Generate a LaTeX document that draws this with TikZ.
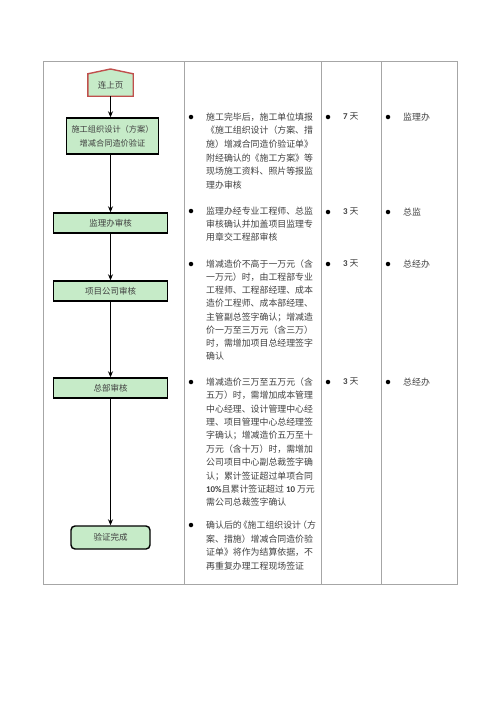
\documentclass[tikz,border=0pt]{standalone}
\usepackage{fontspec}
\setmainfont{Noto Sans CJK SC}
\newfontfamily\latinf{Carlito}
\usetikzlibrary{arrows.meta}
\definecolor{boxgreen}{HTML}{C6EBC8}
\definecolor{prevred}{HTML}{C0504D}
\definecolor{gridgray}{HTML}{A6A6A6}
\definecolor{txt}{HTML}{404040}
\begin{document}
\begin{tikzpicture}[x=1pt,y=-1pt,
  flowbox/.style={draw=black,line width=1.4pt,fill=boxgreen,text=txt,
    font=\fontsize{8.5}{14}\selectfont,inner sep=0pt,align=center},
  flowarrow/.style={line width=1.4pt,-{Stealth[length=6pt,width=5pt]}},
  bulletdot/.style={circle,fill=black,inner sep=0pt,minimum size=4.5pt},
  desc/.style={anchor=north west,inner sep=0pt,align=left,text=txt,
    font=\fontsize{8.9}{13.5}\selectfont},
  gridline/.style={draw=gridgray,line width=1pt}]
\useasboundingbox (0,0) rectangle (500,707);
% table
\draw[gridline] (43,61) rectangle (457,584);
\draw[gridline] (184,61) -- (184,584);
\draw[gridline] (321,61) -- (321,584);
\draw[gridline] (381,61) -- (381,584);
% flow chart
\node[inner sep=0pt,minimum width=45pt,minimum height=22pt] (prev) at (110.5,85) {};
\coordinate (apex) at (110.5,69);
\draw[draw=prevred,line width=1.4pt,fill=boxgreen]
  (prev.south west) -- (prev.north west) -- (apex) -- (prev.north east)
  -- (prev.south east) -- cycle;
\node[text=txt,font=\fontsize{8.5}{10}\selectfont] (prevtext) at (prev) {连上页};
\node[flowbox,font=\fontsize{8.2}{14}\selectfont,minimum width=92pt,minimum height=36pt] (b1) at (112.5,136)
  {施工组织设计（方案）\\增减合同造价验证};
\node[flowbox,minimum width=114pt,minimum height=20pt] (b2) at (110.5,223) {监理办审核};
\node[flowbox,minimum width=114pt,minimum height=20pt] (b3) at (110.5,291) {项目公司审核};
\node[flowbox,minimum width=114pt,minimum height=20pt] (b4) at (110.5,388) {总部审核};
\node[flowbox,rounded corners=4pt,minimum width=79pt,minimum height=23pt] (b5) at (110.5,537.5) {验证完成};
\draw[flowarrow] (prev.south) -- (b1.north -| prev.south);
\draw[flowarrow] (b1.south -| b2.north) -- (b2.north);
\draw[flowarrow] (b2.south) -- (b3.north);
\draw[flowarrow] (b3.south) -- (b4.north);
\draw[flowarrow] (b4.south) -- (b5.north);
% descriptions
\node[bulletdot] (d1b) at (191,117) {};
\node[desc,font=\fontsize{8.9}{13.6}\selectfont] (d1) at (206,112.5) {施工完毕后，施工单位填报\\《施工组织设计（方案、措\\施）增减合同造价验证单》\\附经确认的《施工方案》等\\现场施工资料、照片等报监\\理办审核};
\node[bulletdot] (d2b) at (191,211) {};
\node[desc,font=\fontsize{8.9}{13.2}\selectfont] (d2) at (206,206.5) {监理办经专业工程师、总监\\审核确认并加盖项目监理专\\用章交工程部审核};
\node[bulletdot] (d3b) at (191,264) {};
\node[desc,font=\fontsize{8.9}{13.2}\selectfont] (d3) at (206,259.5) {增减造价不高于一万元（含\\一万元）时，由工程部专业\\工程师、工程部经理、成本\\造价工程师、成本部经理、\\主管副总签字确认；增减造\\价一万至三万元（含三万）\\时，需增加项目总经理签字\\确认};
\node[bulletdot] (d4b) at (191,382) {};
\node[desc,font=\fontsize{8.9}{13.4}\selectfont] (d4) at (206,377.5) {增减造价三万至五万元（含\\五万）时，需增加成本管理\\中心经理、设计管理中心经\\理、项目管理中心总经理签\\字确认；增减造价五万至十\\万元（含十万）时，需增加\\公司项目中心副总裁签字确\\认；累计签证超过单项合同\\{\latinf\bfseries 10\%}且累计签证超过 {\latinf\bfseries 10} 万元\\需公司总裁签字确认};
\node[bulletdot] (d5b) at (191,525) {};
\node[desc,font=\fontsize{8.9}{13.7}\selectfont] (d5) at (206,520.5) {确认后的\kern-3pt《施工组织设计\kern-3pt（方\\案、措施）增减合同造价验\\证单》将作为结算依据，不\\再重复办理工程现场签证};
% durations
\node[bulletdot] (t1b) at (328,117) {};
\node[desc] (t1) at (343,112.5) {{\latinf\bfseries 7} 天};
\node[bulletdot] (t2b) at (328,212) {};
\node[desc] (t2) at (343,207.5) {{\latinf\bfseries 3} 天};
\node[bulletdot] (t3b) at (328,264) {};
\node[desc] (t3) at (343,259.5) {{\latinf\bfseries 3} 天};
\node[bulletdot] (t4b) at (328,382) {};
\node[desc] (t4) at (343,377.5) {{\latinf\bfseries 3} 天};
% departments
\node[bulletdot] (r1b) at (388,117) {};
\node[desc] (r1) at (403,112.5) {监理办};
\node[bulletdot] (r2b) at (388,212) {};
\node[desc] (r2) at (403,207.5) {总监};
\node[bulletdot] (r3b) at (388,264) {};
\node[desc] (r3) at (403,259.5) {总经办};
\node[bulletdot] (r4b) at (388,382) {};
\node[desc] (r4) at (403,377.5) {总经办};
\end{tikzpicture}
\end{document}
